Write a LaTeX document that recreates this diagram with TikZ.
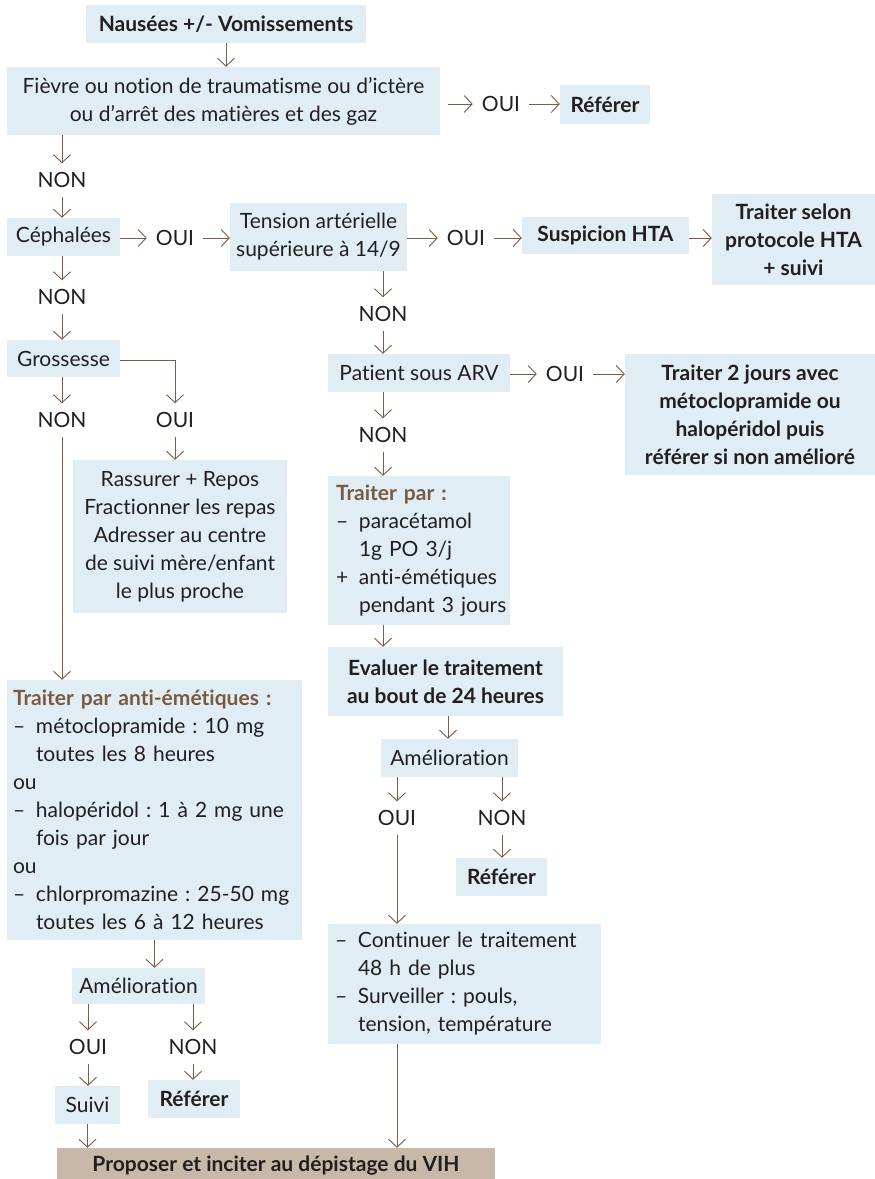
\documentclass[tikz,border=0pt]{standalone}
\usepackage{fontspec}
\setmainfont{Lato}[Ligatures={NoCommon}]
\usetikzlibrary{arrows.meta,calc}
\definecolor{boxblue}{RGB}{225,237,245}
\definecolor{arrowbrown}{RGB}{123,92,69}
\definecolor{titlebrown}{RGB}{122,90,64}
\definecolor{propbox}{RGB}{200,184,168}
\definecolor{ink}{RGB}{35,31,32}
\newcommand\dsh{\makebox[23pt][l]{–}}
\newcommand\pls{\makebox[23pt][l]{+}}
\newcommand\ind{\hspace*{23pt}}
\frenchspacing
\begin{document}
\begin{tikzpicture}[x=1pt,y=-1pt,
  every node/.style={text=ink, font=\fontsize{21}{28}\selectfont},
  box/.style={fill=boxblue, inner sep=0pt, align=center},
  bbox/.style={box, font=\fontsize{21}{28}\selectfont\bfseries},
  lbox/.style={fill=boxblue, inner ysep=0pt, align=left},
  lab/.style={inner sep=9pt, text height=15pt, text depth=0pt},
  arr/.style={draw=arrowbrown, line width=0.9pt, -{Straight Barb[length=8pt,width=17pt,line width=0.9pt]}},
  ln/.style={draw=arrowbrown, line width=0.9pt}
]
\useasboundingbox (0,0) rectangle (875,1179);
\clip (0,0) rectangle (875,1179);

% top
\node[bbox, minimum width=280, minimum height=38] (n1) at (226,24) {Nausées +/- Vomissements};
\node[box, minimum width=433, minimum height=68] (fievre) at (223.5,101) {Fièvre ou notion de traumatisme ou d’ictère\\ou d’arrêt des matières et des gaz};
\node[lab] (oui1) at (501,104) {OUI};
\node[bbox, minimum width=90, minimum height=39] (ref1) at (605,104.5) {Référer};
\node[lab] (non1) at (62,180) {NON};

% cephalees row
\node[box, minimum width=113, minimum height=38] (ceph) at (63.5,237) {Céphalées};
\node[lab] (oui2) at (175,238) {OUI};
\node[box, minimum width=177, minimum height=68] (tension) at (318.5,237) {Tension artérielle\\supérieure à 14/9};
\node[lab] (oui3) at (466,238) {OUI};
\node[bbox, minimum width=167, minimum height=37] (susp) at (605.5,235.5) {Suspicion HTA};
\node[bbox, minimum width=163, minimum height=91] (tsel) at (793.5,239.5) {Traiter selon\\protocole HTA\\+ suivi};

% left column
\node[lab] (non2) at (62,297) {NON};
\node[box, minimum width=113, minimum height=37] (gross) at (63.5,358.5) {Grossesse};
\node[lab] (nonG) at (62,420) {NON};
\node[lab] (ouiG) at (175,420) {OUI};
\node[box, minimum width=214, minimum height=153] (rass) at (180,536.5) {Rassurer + Repos\\Fractionner les repas\\Adresser au centre\\de suivi mère/enfant\\le plus proche};
\node[lbox, inner xsep=6pt, text width=283pt, minimum height=260] (antiem) at (154.5,810) {{\color{titlebrown}\bfseries Traiter par anti-émétiques :}\\\dsh métoclopramide : 10 mg\\\ind toutes les 8 heures\\ou\\\dsh halopéridol : 1 à 2 mg une\\\ind fois par jour\\ou\\\dsh chlorpromazine : 25-50 mg\\\ind toutes les 6 à 12 heures};
\node[box, minimum width=133, minimum height=36] (amel1) at (138.5,986) {Amélioration};
\node[lab] (oui6) at (88,1047) {OUI};
\node[lab] (non6) at (193,1047) {NON};
\node[box, minimum width=65, minimum height=38] (suivi) at (87.5,1105) {Suivi};
\node[bbox, minimum width=92, minimum height=38] (ref3) at (194,1099) {Référer};

% middle column
\node[lab] (nonT) at (383,314) {NON};
\node[box, minimum width=182, minimum height=38] (arv) at (419,373) {Patient sous ARV};
\node[lab] (oui4) at (565,374) {OUI};
\node[bbox, minimum width=250, minimum height=121] (t2j) at (750,414.5) {Traiter 2 jours avec\\métoclopramide ou\\halopéridol puis\\référer si non amélioré};
\node[lab] (nonA) at (383,435) {NON};
\node[lbox, inner xsep=8pt, text width=166pt, minimum height=149] (tpar) at (419,550.5) {{\color{titlebrown}\bfseries Traiter par :}\\\mbox{\dsh paracétamol}\\\mbox{\ind 1g PO 3/j}\\\mbox{\pls anti-émétiques}\\\mbox{\ind pendant 3 jours}};
\node[bbox, minimum width=235, minimum height=69] (eval) at (445.5,681.5) {Evaluer le traitement\\au bout de 24 heures};
\node[box, minimum width=137, minimum height=38] (amel2) at (449.5,758) {Amélioration};
\node[lab] (oui5) at (397,818) {OUI};
\node[lab] (non5) at (502,818) {NON};
\node[bbox, minimum width=91, minimum height=38] (ref2) at (501.5,877) {Référer};
\node[lbox, inner xsep=7pt, text width=259pt, minimum height=120] (cont) at (464.5,984) {\dsh Continuer le traitement\\\ind 48 h de plus\\\dsh Surveiller : pouls,\\\ind tension, température};

% bottom
\node[fill=propbox, inner sep=0pt, minimum width=438, minimum height=36, font=\fontsize{21}{28}\selectfont\bfseries] (prop) at (276,1166) {Proposer et inciter au dépistage du VIH};

% connectors
\draw[arr] (n1.south) -- (n1.south |- fievre.north);
\draw[arr, shorten <=8pt] (fievre.east |- oui1) -- (oui1.west);
\draw[arr] (oui1.east) -- (ref1.west |- oui1);
\draw[arr] (fievre.south -| non1) -- (non1);
\draw[arr] (non1) -- (non1 |- ceph.north);
\draw[arr] (ceph.east |- oui2) -- (oui2);
\draw[arr] (oui2) -- (tension.west |- oui2);
\draw[arr] (tension.east |- oui3) -- (oui3);
\draw[arr] (oui3) -- (susp.west |- oui3);
\draw[arr] (susp.east |- oui3) -- (tsel.west |- oui3);
\draw[arr] (ceph.south -| non2) -- (non2);
\draw[arr] (non2) -- (non2 |- gross.north);
\draw[arr] (gross.south -| nonG) -- (nonG);
\draw[arr] ([yshift=-2pt]gross.east) -- ([yshift=-2pt]ouiG |- gross.east) -- (ouiG);
\draw[arr] (nonG) -- (nonG |- antiem.north);
\draw[arr] (ouiG) -- (ouiG |- rass.north);
\draw[arr] (antiem.south) -- (antiem.south |- amel1.north);
\draw[arr] (amel1.south -| oui6) -- (oui6);
\draw[arr] (amel1.south -| non6) -- (non6);
\draw[arr] (oui6) -- (oui6 |- suivi.north);
\draw[arr] (non6) -- (non6 |- ref3.north);
\draw[arr] (suivi.south) -- (suivi.south |- prop.north);
\draw[arr] (tension.south -| nonT) -- (nonT);
\draw[arr] (nonT) -- (nonT |- arv.north);
\draw[arr] (arv.east |- oui4) -- (oui4);
\draw[arr] (oui4) -- (t2j.west |- oui4);
\draw[arr] (arv.south -| nonA) -- (nonA);
\draw[arr] (nonA) -- (nonA |- tpar.north);
\draw[arr] (tpar.south -| nonA) -- (nonA |- eval.north);
\draw[arr] ([xshift=2.5pt]eval.south) -- ([xshift=2.5pt]eval.south |- amel2.north);
\draw[arr] (amel2.south -| oui5) -- (oui5);
\draw[arr] (amel2.south -| non5) -- (non5);
\draw[arr] (non5) -- (non5 |- ref2.north);
\draw[arr] (oui5) -- (oui5 |- cont.north);
\draw[arr] (cont.south -| oui5) -- (oui5 |- prop.north);
\end{tikzpicture}
\end{document}
